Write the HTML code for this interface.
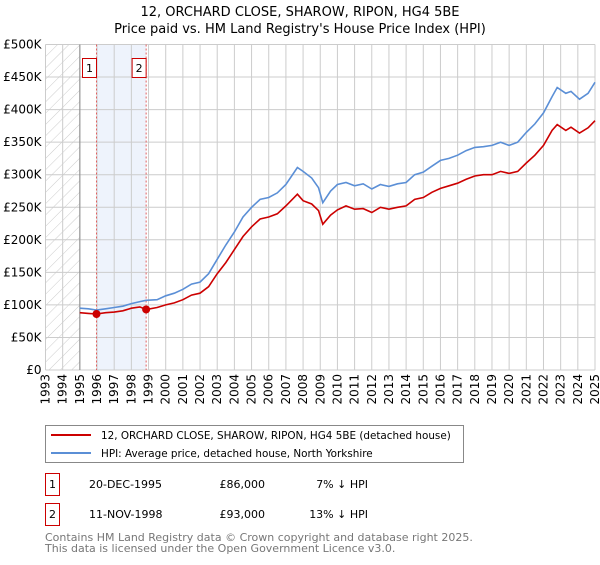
<!DOCTYPE html>
<html><head><meta charset="utf-8"><style>
body{margin:0;background:#fff;font-family:"Liberation Sans","DejaVu Sans",sans-serif;}
svg text{font-family:"DejaVu Sans","Liberation Sans",sans-serif;}
</style></head><body>
<svg id="c" width="600" height="560" viewBox="0 0 600 560" xmlns="http://www.w3.org/2000/svg">
<defs><pattern id="hatch" width="8" height="8" patternUnits="userSpaceOnUse" patternTransform="rotate(45)"><line x1="0" y1="0" x2="0" y2="8" stroke="#ccc" stroke-width="1"/></pattern></defs>
<text x="300" y="16" text-anchor="middle" font-size="13">12, ORCHARD CLOSE, SHAROW, RIPON, HG4 5BE</text>
<text x="300" y="33" text-anchor="middle" font-size="13">Price paid vs. HM Land Registry's House Price Index (HPI)</text>
<g id="plot"></g>
<g>
<rect x="45.5" y="425.5" width="418" height="37" fill="#fff" stroke="#888"/>
<line x1="51" y1="435" x2="91" y2="435" stroke="#cc0000" stroke-width="2"/>
<text x="101" y="439" font-size="10.4">12, ORCHARD CLOSE, SHAROW, RIPON, HG4 5BE (detached house)</text>
<line x1="51" y1="453" x2="91" y2="453" stroke="#5b8fd6" stroke-width="2"/>
<text x="101" y="457" font-size="10.4">HPI: Average price, detached house, North Yorkshire</text>
</g>
<g font-size="11">
<rect x="45.5" y="473.5" width="14" height="22" fill="#fff" stroke="#cc0000"/><text x="52.5" y="488" text-anchor="middle">1</text>
<text x="89" y="488">20-DEC-1995</text><text x="265" y="488" text-anchor="end">£86,000</text><text x="368" y="488" text-anchor="end">7% ↓ HPI</text>
<rect x="45.5" y="503.5" width="14" height="22" fill="#fff" stroke="#cc0000"/><text x="52.5" y="518" text-anchor="middle">2</text>
<text x="89" y="518">11-NOV-1998</text><text x="265" y="518" text-anchor="end">£93,000</text><text x="368" y="518" text-anchor="end">13% ↓ HPI</text>
</g>
<text x="45" y="541" font-size="11" fill="#777">Contains HM Land Registry data © Crown copyright and database right 2025.</text>
<text x="45" y="552" font-size="11" fill="#777">This data is licensed under the Open Government Licence v3.0.</text>
</svg>
<script>
const dates=[1995.0,1995.5,1995.97,1996.5,1997.0,1997.5,1998.0,1998.5,1998.86,1999.5,2000.0,2000.5,2001.0,2001.5,2002.0,2002.5,2003.0,2003.5,2004.0,2004.5,2005.0,2005.5,2006.0,2006.5,2007.0,2007.67,2008.0,2008.5,2008.9,2009.15,2009.6,2010.0,2010.5,2011.0,2011.5,2012.0,2012.5,2013.0,2013.5,2014.0,2014.5,2015.0,2015.5,2016.0,2016.5,2017.0,2017.5,2018.0,2018.5,2019.0,2019.5,2020.0,2020.5,2021.0,2021.5,2022.0,2022.5,2022.8,2023.3,2023.6,2024.1,2024.6,2025.0];
const hpi=[95,94,92,94,96,98,102,105,107,108,114,118,124,132,135,148,170,192,212,235,250,262,265,272,285,311,305,295,280,257,275,285,288,283,286,278,285,282,286,288,300,304,313,322,325,330,337,342,343,345,350,345,350,365,378,395,420,434,425,428,416,425,442];
const paid=[88,87,86,88,89,91,95,97,93,96,100,103,108,115,118,128,148,165,185,205,220,232,235,240,252,270,260,255,245,224,238,246,252,247,248,242,250,247,250,252,262,265,273,279,283,287,293,298,300,300,305,302,305,318,330,345,368,377,368,373,364,372,383];
const sales=[[1995.97,86],[1998.86,93]];
const yTicks=[0,50,100,150,200,250,300,350,400,450,500];
const yLabels=['£0','£50K','£100K','£150K','£200K','£250K','£300K','£350K','£400K','£450K','£500K'];
const years=[];for(let y=1993;y<=2025;y++)years.push(y);
const X0=45.5,X1=595,Y0=370,Y1=44.5;
const xs=t=>X0+(t-1993)/(2025-1993)*(X1-X0);
const ys=v=>Y0-v/500*(Y0-Y1);
const NS='http://www.w3.org/2000/svg';
const g=document.getElementById('plot');
function mk(tag,attrs,parent){const e=document.createElementNS(NS,tag);for(const k in attrs)e.setAttribute(k,attrs[k]);(parent||g).appendChild(e);return e;}
let e;
e=mk('rect',{x:xs(1993),y:Y1,width:xs(1995)-xs(1993),height:Y0-Y1,fill:'url(#hatch)'});


e=mk('rect',{x:xs(sales[0][0]),y:Y1,width:xs(sales[1][0])-xs(sales[0][0]),height:Y0-Y1,fill:'#eef3fc'});


years.forEach(y=>{
 e=mk('line',{x1:xs(y),x2:xs(y),y1:Y1,y2:Y0,stroke:'#ccc'});
 
 
 const tx=xs(y)+4;
 e=mk('text',{x:0,y:0,transform:`translate(${tx},${Y0+4}) rotate(-90)`,'text-anchor':'end','font-size':'12'});
 e.textContent=y;
 
 
});
yTicks.forEach((v,i)=>{
 e=mk('line',{x1:X0,x2:X1,y1:ys(v),y2:ys(v),stroke:'#ccc'});
 
 
 e=mk('text',{x:X0-4,y:ys(v)+4,'text-anchor':'end','font-size':'12'});
 e.textContent=yLabels[i];
 
 
});
e=mk('line',{x1:xs(1995),x2:xs(1995),y1:Y1,y2:Y0,stroke:'#888'});


sales.forEach((s,i)=>{
 e=mk('line',{x1:xs(s[0]),x2:xs(s[0]),y1:Y1,y2:Y0,stroke:'#e06060','stroke-dasharray':'2,2'});
 
 
 e=mk('rect',{x:xs(s[0])-14,y:58.5,width:14,height:19,fill:'#fff',stroke:'#cc0000'});
 
 
 e=mk('text',{x:xs(s[0])-7,y:72,'text-anchor':'middle','font-size':'11'});
 e.textContent=String(i+1);
 
 
});
const pts=a=>dates.map((d,i)=>xs(d).toFixed(1)+','+ys(a[i]).toFixed(1)).join(' ');
e=mk('polyline',{points:pts(hpi),fill:'none',stroke:'#5b8fd6','stroke-width':1.6});


e=mk('polyline',{points:pts(paid),fill:'none',stroke:'#cc0000','stroke-width':1.6});


sales.forEach(s=>{
 e=mk('circle',{cx:xs(s[0]),cy:ys(s[1]),r:4,fill:'#cc0000'});
 
 
});
</script>
</body></html>
